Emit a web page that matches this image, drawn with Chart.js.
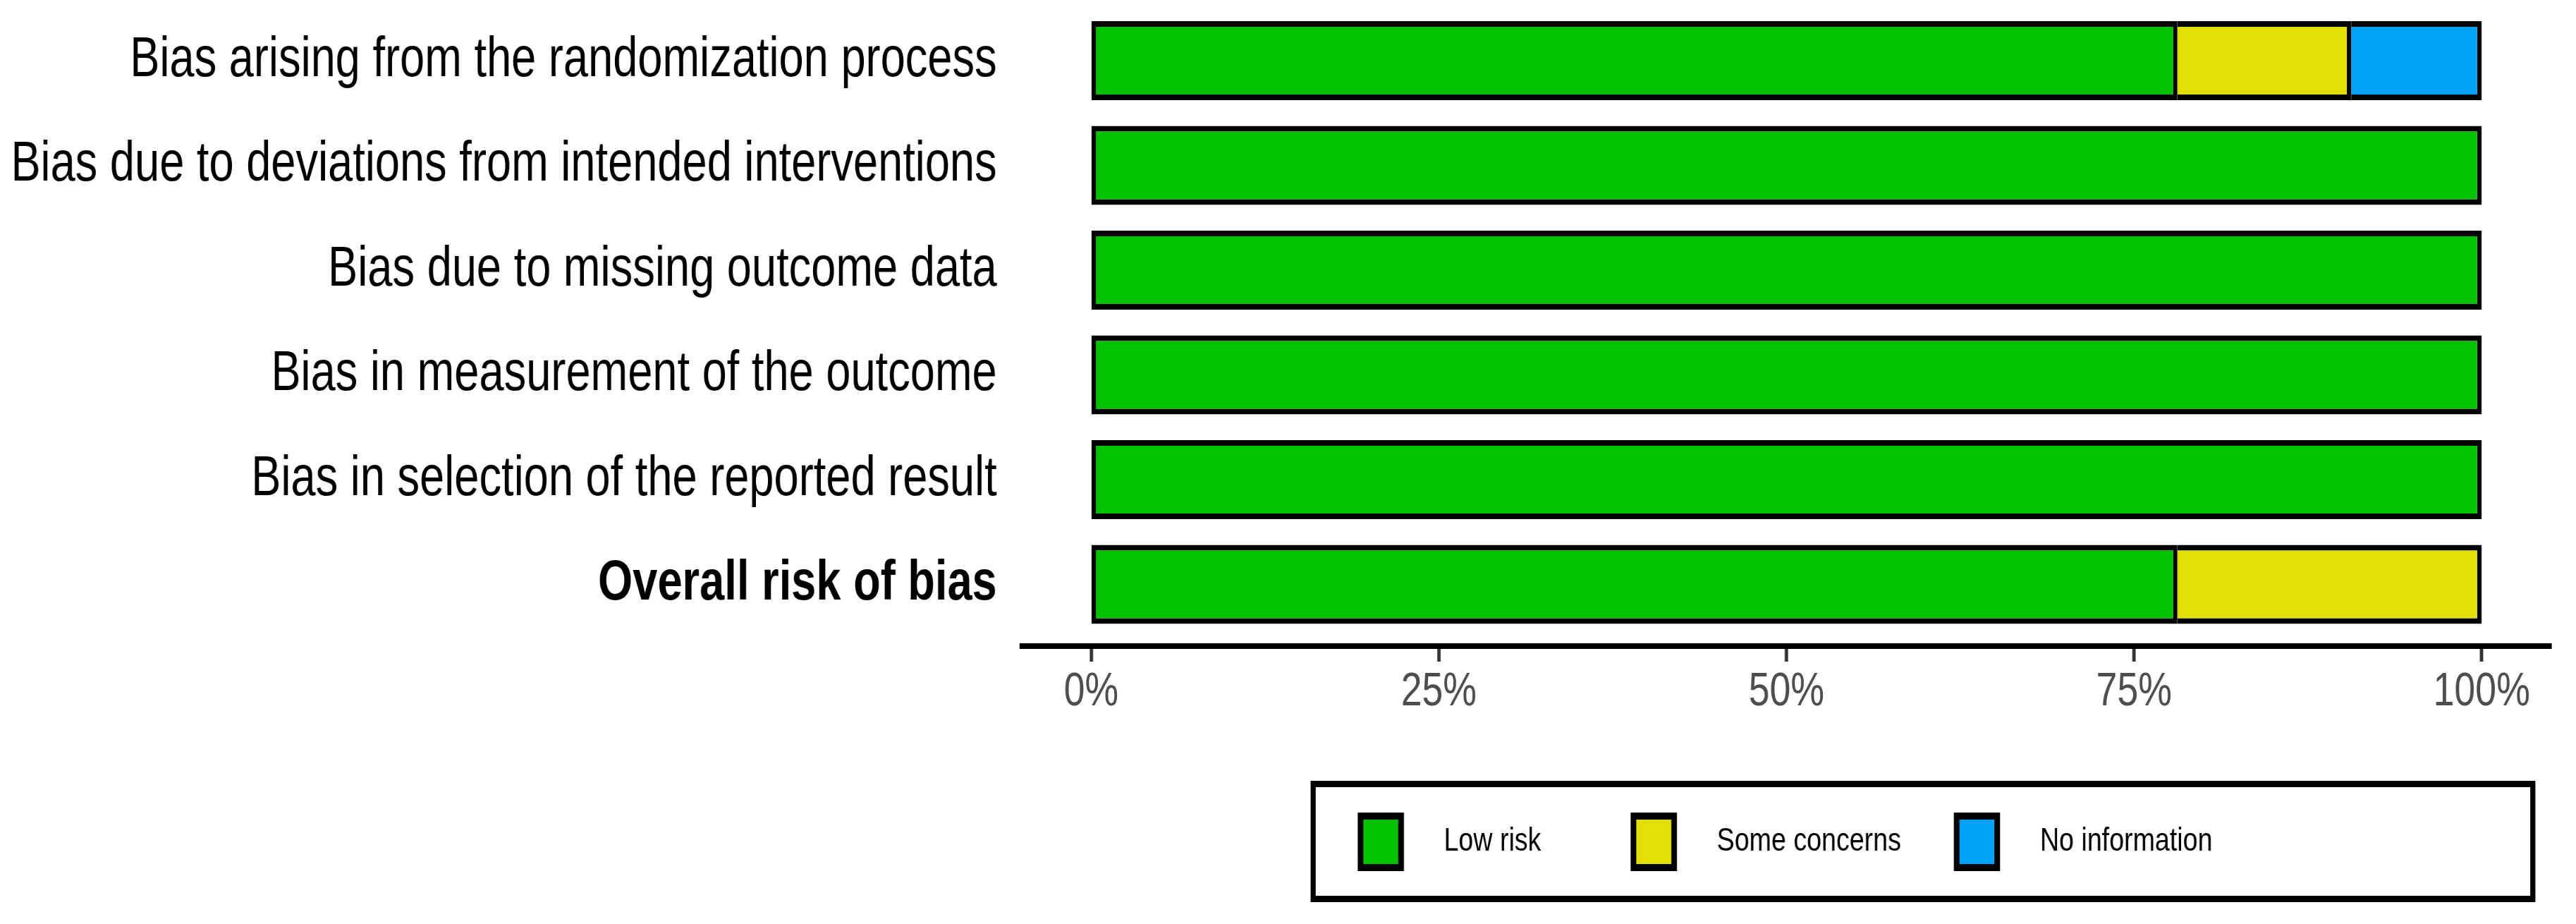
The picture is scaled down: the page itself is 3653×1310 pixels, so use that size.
<!DOCTYPE html>
<html lang="en">
  <head>
    <meta charset="UTF-8" />
    <title>Risk of bias summary</title>
    <script src="https://cdn.jsdelivr.net/npm/chart.js@4"></script>
    <style>
      html, body {
        margin: 0;
        padding: 0;
        background: #fff;
        overflow: hidden;
      }
      #robChart {
        display: block;
      }
    </style>
  </head>
  <body>
    <!-- bitmap is 4566 wide but shown 3653 wide: same sideways squeeze as the original export -->
    <canvas id="robChart" width="4566" height="1310" style="width: 3653px; height: 1310px"></canvas>

    <script>
      const domains = [
        'Bias arising from the randomization process',
        'Bias due to deviations from intended interventions',
        'Bias due to missing outcome data',
        'Bias in measurement of the outcome',
        'Bias in selection of the reported result',
        'Overall risk of bias'
      ];
      const lowRisk = [78.125, 100, 100, 100, 100, 78.125];
      const someConcerns = [12.5, 0, 0, 0, 0, 21.875];
      const noInformation = [9.375, 0, 0, 0, 0, 0];
      const xTicks = [0, 25, 50, 75, 100];

      const FONT = 'Liberation Sans';

      function rows(values) {
        return values.map((v, i) => ({ x: v, y: i }));
      }

      // frame round the legend, like the ggplot legend box
      const legendFrame = {
        id: 'legendFrame',
        afterDraw(chart) {
          const boxes = chart.legend.legendHitBoxes;
          if (!boxes || !boxes.length) return;
          const first = boxes[0];
          const last = boxes[boxes.length - 1];
          const left = first.left - 84;
          const right = last.left + last.width + 568;
          const ctx = chart.ctx;
          ctx.save();
          ctx.lineWidth = 9;
          ctx.strokeStyle = '#000';
          ctx.strokeRect(left, first.top - 45.5, right - left, 163);
          ctx.restore();
        }
      };

      const ctx = document.getElementById('robChart').getContext('2d');

      new Chart(ctx, {
        type: 'bar',
        data: {
          datasets: [
            { label: 'Low risk', data: rows(lowRisk), backgroundColor: '#02C100', borderSkipped: false },
            { label: 'Some concerns', data: rows(someConcerns), backgroundColor: '#E2DF07', borderSkipped: 'start' },
            { label: 'No information', data: rows(noInformation), backgroundColor: '#02A3F5', borderSkipped: 'start' }
          ]
        },
        options: {
          indexAxis: 'y',
          responsive: false,
          animation: false,
          layout: { padding: { left: 0, right: 44, top: 0, bottom: 70 } },
          datasets: {
            bar: {
              borderColor: '#000',
              borderWidth: 8,
              categoryPercentage: 1,
              barPercentage: 0.754
            }
          },
          scales: {
            x: {
              type: 'linear',
              position: 'bottom',
              stacked: true,
              bounds: 'data',
              min: -5,
              max: 105,
              afterBuildTicks: (s) => { s.ticks = xTicks.map((v) => ({ value: v })); },
              afterFit: (s) => { s.height = 142.5; s.paddingLeft = 0; s.paddingRight = 0; },
              grid: { drawOnChartArea: false, drawTicks: true, tickLength: 22, tickWidth: 6, tickColor: '#333' },
              border: { display: true, color: '#000', width: 8 },
              ticks: {
                padding: 3,
                color: '#4d4d4d',
                font: { family: FONT, size: 67 },
                callback: (v) => v + '%'
              }
            },
            y: {
              type: 'linear',
              stacked: true,
              reverse: true,
              offset: false,
              bounds: 'data',
              min: -0.579,
              max: 5.589,
              afterBuildTicks: (s) => { s.ticks = domains.map((_, i) => ({ value: i })); },
              afterFit: (s) => { s.width = 1811; s.paddingTop = 0; s.paddingBottom = 0; },
              grid: { display: false, drawTicks: false },
              border: { display: false },
              ticks: {
                padding: 44,
                color: '#000',
                font: (c) => ({
                  family: FONT,
                  size: 79,
                  weight: c.index === domains.length - 1 ? 'bold' : 'normal'
                }),
                callback: (v) => domains[v]
              }
            }
          },
          plugins: {
            tooltip: { enabled: false },
            legend: {
              position: 'bottom',
              fullSize: false,
              labels: {
                boxWidth: 72,
                boxHeight: 73,
                padding: 98.5,
                color: '#000',
                font: { family: FONT, size: 47 },
                // leading spaces: wider gap between key and text; trailing ones on the
                // first item copy the uneven key spacing of the original
                generateLabels: (chart) =>
                  Chart.defaults.plugins.legend.labels.generateLabels(chart).map((item, i) =>
                    Object.assign(item, {
                      text: '    ' + item.text + (i === 0 ? '     ' : ''),
                      lineWidth: 10,
                      strokeStyle: '#000'
                    }))
              }
            }
          }
        },
        plugins: [legendFrame]
      });
    </script>
  </body>
</html>
